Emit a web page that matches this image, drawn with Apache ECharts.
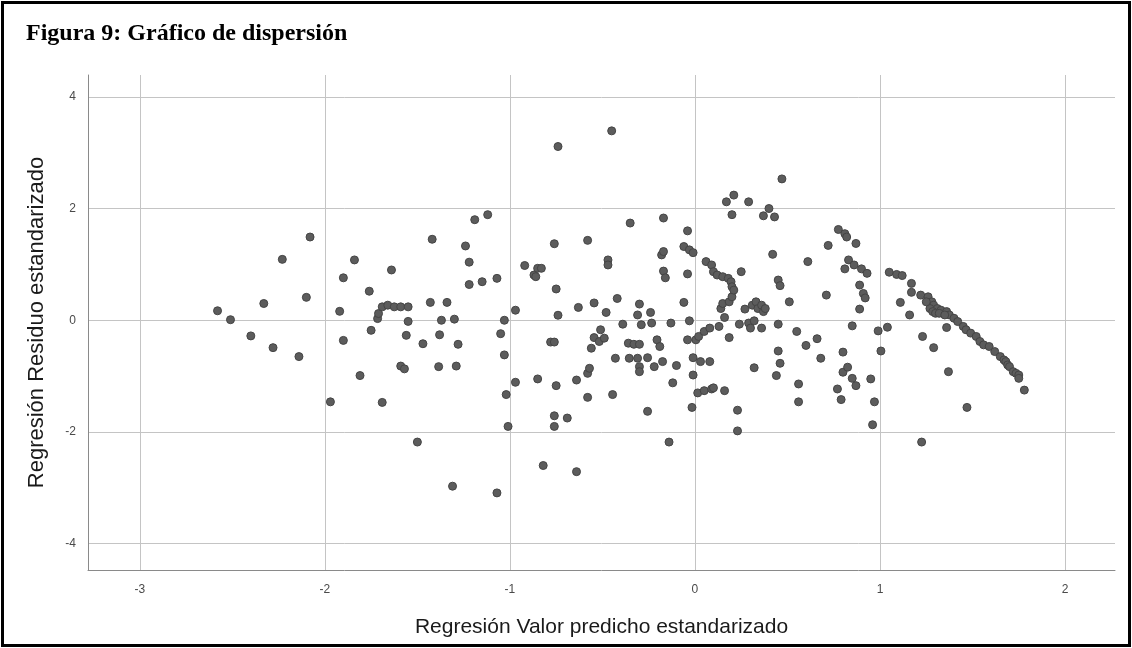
<!DOCTYPE html>
<html>
<head>
<meta charset="utf-8">
<script src="https://cdn.jsdelivr.net/npm/echarts@6/dist/echarts.min.js"></script>
<style>
  html, body { margin: 0; padding: 0; background: #fff; }
  #chart { width: 1132px; height: 648px; }
</style>
</head>
<body>
<div id="chart"></div>
<script>
// Standardized predicted value (x) vs standardized residual (y)
const leftPoints = [
  [-2.58,0.17],[-2.51,0.01],[-2.40,-0.28],[-2.33,0.30],[-2.28,-0.49],[-2.23,1.09],[-2.14,-0.65],[-2.10,0.41],
  [-2.08,1.49],[-1.97,-1.46],[-1.92,0.16],[-1.90,0.76],[-1.90,-0.36],[-1.84,1.08],[-1.81,-0.99],[-1.76,0.52],
  [-1.75,-0.18],[-1.715,0.03],[-1.71,0.12],[-1.69,0.24],[-1.69,-1.47],[-1.66,0.27],[-1.64,0.90],[-1.625,0.24],
  [-1.59,0.24],[-1.59,-0.82],[-1.57,-0.87],[-1.56,-0.27],[-1.55,0.24],[-1.55,-0.02],[-1.50,-2.18],[-1.47,-0.42],
  [-1.43,0.32],[-1.42,1.45],[-1.385,-0.83],[-1.38,-0.26],[-1.37,0.0],[-1.34,0.32],[-1.31,-2.97],[-1.30,0.02],
  [-1.29,-0.82],[-1.28,-0.43],[-1.24,1.33],[-1.22,1.04],[-1.22,0.64],[-1.19,1.80],[-1.15,0.69],[-1.12,1.89],
  [-1.07,0.75],[-1.07,-3.09],[-1.05,-0.24],[-1.03,0.0],[-1.03,-0.62],[-1.02,-1.33],[-1.01,-1.90],[-0.97,0.18],
  [-0.97,-1.11]
];

const middlePoints = [
  [-0.92,0.98],[-0.87,0.81],[-0.86,0.78],[-0.85,0.93],[-0.85,-1.05],[-0.83,0.93],[-0.82,-2.60],[-0.78,-0.39],
  [-0.76,1.37],[-0.76,-0.39],[-0.76,-1.71],[-0.76,-1.90],[-0.75,0.56],[-0.75,-1.17],[-0.74,3.11],[-0.74,0.09],
  [-0.69,-1.75],[-0.64,-1.07],[-0.64,-2.71],[-0.63,0.23],[-0.58,1.43],[-0.58,-0.95],[-0.58,-1.38],[-0.57,-0.86],
  [-0.56,-0.50],[-0.545,0.31],[-0.545,-0.31],[-0.517,-0.38],[-0.51,-0.17],[-0.49,-0.32],[-0.48,0.14],[-0.47,1.08],
  [-0.47,0.99],[-0.45,3.39],[-0.445,-1.33],[-0.43,-0.68],[-0.42,0.39],[-0.39,-0.07],[-0.36,-0.41],[-0.355,-0.68],
  [-0.35,1.74],[-0.33,-0.43],[-0.31,0.095],[-0.31,-0.68],[-0.30,0.29],[-0.30,-0.43],[-0.30,-0.83],[-0.30,-0.92],
  [-0.29,-0.08],[-0.256,-0.67],[-0.256,-1.63],[-0.24,0.14],[-0.234,-0.05],[-0.22,-0.83],[-0.205,-0.35],[-0.19,-0.47],
  [-0.18,1.17],[-0.175,-0.74],[-0.17,1.83],[-0.17,1.23],[-0.17,0.88],[-0.16,0.76],[-0.14,-2.18],[-0.13,-0.05],
  [-0.12,-1.12],[-0.10,-0.81],[-0.06,1.32],[-0.06,0.32],[-0.04,1.60],[-0.04,0.83],[-0.04,-0.35],[-0.03,1.26],
  [-0.03,-0.01],[-0.016,-1.56],[-0.01,1.21],[-0.01,-0.67],[-0.01,-0.98],[0.005,-0.35],[0.015,-1.30],[0.02,-0.29],
  [0.03,-0.74],[0.05,-0.20],[0.05,-1.26],[0.06,1.05],[0.08,-0.14],[0.08,-0.74],[0.09,0.99],[0.09,-1.23],
  [0.10,0.87],[0.10,-1.21],[0.12,0.81],[0.13,-0.11],[0.14,0.21],[0.15,0.78],[0.15,0.30],[0.16,0.05],
  [0.16,-1.26],[0.17,2.12],[0.18,0.75],[0.185,0.33],[0.185,-0.31],[0.195,0.69],[0.20,1.89],[0.20,0.60],
  [0.20,0.42],[0.21,2.24],[0.21,0.54],[0.23,-1.61],[0.23,-1.98],[0.24,-0.07],[0.25,0.87],[0.27,0.20],
  [0.29,2.12],[0.29,-0.05],[0.30,-0.14],[0.31,0.27],[0.32,-0.01],[0.32,-0.85],[0.33,0.33],[0.34,0.21],
  [0.36,0.27],[0.36,-0.14],[0.37,1.87],[0.37,0.155],[0.38,0.21],[0.40,2.0],[0.42,1.18],[0.43,1.85],
  [0.44,-0.99],[0.45,0.72],[0.45,-0.07],[0.45,-0.55],[0.46,0.62],[0.46,-0.77],[0.47,2.53],[0.51,0.33],
  [0.55,-0.20],[0.56,-1.14],[0.56,-1.46],[0.60,-0.45],[0.61,1.05],[0.66,-0.33],[0.68,-0.68]
];

const rightPoints = [
  [0.71,0.45],[0.72,1.34],[0.775,1.625],[0.77,-1.23],[0.79,-1.42],[0.80,-0.57],[0.80,-0.93],[0.81,1.55],
  [0.81,0.92],[0.82,1.49],[0.825,-0.84],[0.83,1.08],[0.85,-0.10],[0.85,-1.04],[0.86,0.99],[0.87,1.375],
  [0.87,-1.17],[0.89,0.63],[0.89,0.20],[0.90,0.92],[0.91,0.48],[0.92,0.40],[0.93,0.84],[0.95,-1.05],
  [0.96,-1.87],[0.97,-1.46],[0.99,-0.19],[1.005,-0.55],[1.04,-0.125],[1.05,0.86],[1.09,0.82],[1.11,0.32],
  [1.12,0.80],[1.16,0.095],[1.17,0.66],[1.17,0.50],[1.225,-2.18],[1.23,-0.29],[1.29,-0.49],[1.36,-0.13],
  [1.37,-0.92],[1.47,-1.56],
  [1.22,0.45],[1.26,0.42],[1.28,0.33],[1.29,0.27],[1.31,0.21],[1.33,0.18],[1.36,0.155],[1.375,0.095],
  [1.40,0.036],[1.42,-0.023],[1.45,-0.11],[1.465,-0.17],[1.49,-0.23],[1.52,-0.29],[1.54,-0.38],[1.56,-0.44],
  [1.59,-0.47],[1.62,-0.56],[1.65,-0.65],[1.67,-0.71],[1.68,-0.74],[1.69,-0.80],[1.70,-0.83],[1.72,-0.92],
  [1.735,-0.95],[1.75,-0.98],[1.75,-1.04],[1.78,-1.25],[1.27,0.21],[1.285,0.155],[1.30,0.125],[1.25,0.33],
  [1.32,0.125],[1.35,0.095]
];

const xRange = [-3.28, 2.27];
const yRange = [-4.47, 4.39];

const chartTitle = 'Figura 9: Gráfico de dispersión';
const xTitle = 'Regresión Valor predicho estandarizado';
const yTitle = 'Regresión Residuo estandarizado';

const chart = echarts.init(document.getElementById('chart'), null, { renderer: 'canvas' });

const gridLine = { show: true, showMinLine: false, showMaxLine: false, lineStyle: { color: '#c4c4c4', width: 1 } };
const tickText = { color: '#4a4a4a', fontFamily: 'Liberation Sans', fontSize: 12 };

chart.setOption({
  backgroundColor: '#ffffff',
  animation: false,
  title: {
    text: chartTitle,
    left: 21,
    top: 17,
    textStyle: { fontFamily: 'Liberation Serif', fontWeight: 'bold', fontSize: 24, color: '#000' }
  },
  graphic: [{
    type: 'rect',
    shape: { x: 2.5, y: 2.5, width: 1127, height: 643 },
    style: { fill: null, stroke: '#000', lineWidth: 3 },
    silent: true
  }],
  grid: { left: 88, right: 17, top: 75, bottom: 78 },
  xAxis: {
    type: 'value',
    min: xRange[0],
    max: xRange[1],
    splitNumber: 5,
    name: xTitle,
    nameLocation: 'middle',
    nameGap: 47,
    nameTextStyle: { fontFamily: 'Liberation Sans', fontSize: 21, color: '#1a1a1a' },
    axisLine: { show: true, onZero: false, lineStyle: { color: '#8a8a8a', width: 1 } },
    axisTick: { show: false },
    axisLabel: { showMinLabel: false, showMaxLabel: false, margin: 14, ...tickText },
    splitLine: gridLine
  },
  yAxis: {
    type: 'value',
    min: yRange[0],
    max: yRange[1],
    splitNumber: 5,
    name: yTitle,
    nameLocation: 'middle',
    nameRotate: 90,
    nameGap: 40,
    nameTextStyle: { fontFamily: 'Liberation Sans', fontSize: 22, color: '#1a1a1a' },
    axisLine: { show: true, onZero: false, lineStyle: { color: '#8a8a8a', width: 1 } },
    axisTick: { show: false },
    axisLabel: { showMinLabel: false, showMaxLabel: false, margin: 12, ...tickText },
    splitLine: gridLine
  },
  series: [{
    type: 'scatter',
    data: leftPoints.concat(middlePoints, rightPoints),
    symbol: 'circle',
    symbolSize: 8,
    itemStyle: { color: '#5c5c5c', borderColor: '#454545', borderWidth: 1, opacity: 1 },
    emphasis: { disabled: true }
  }]
});
</script>
</body>
</html>
